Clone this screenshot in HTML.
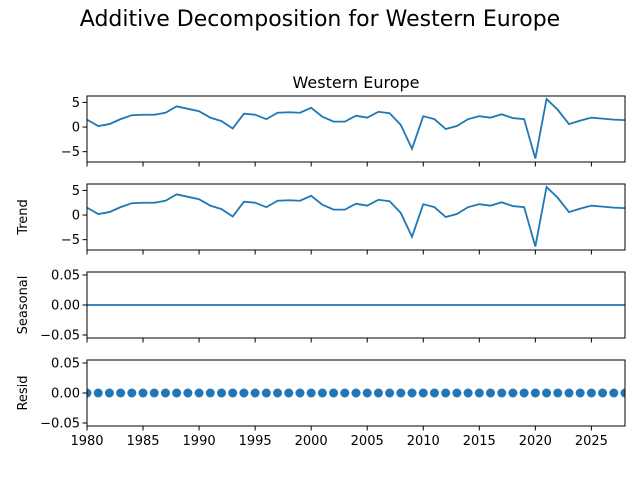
<!DOCTYPE html>
<html><head><meta charset="utf-8"><style>
body{margin:0;background:#fff;}
svg{font-family:"DejaVu Sans","Liberation Sans",sans-serif;}
</style></head><body>
<svg id="chart" width="640" height="480">
<text x="320" y="26" text-anchor="middle" font-size="22">Additive Decomposition for Western Europe</text>
<text x="356" y="88" text-anchor="middle" font-size="16">Western Europe</text>
</svg>
<script>
const years = [];
for (let y = 1980; y <= 2028; y++) years.push(y);
const observed = [1.5,0.2,0.6,1.6,2.4,2.5,2.5,2.9,4.2,3.7,3.2,1.9,1.2,-0.3,2.7,2.5,1.6,2.9,3.0,2.9,3.9,2.1,1.1,1.1,2.3,1.9,3.1,2.8,0.4,-4.4,2.2,1.6,-0.4,0.2,1.6,2.2,1.9,2.6,1.8,1.6,-6.4,5.7,3.5,0.6,1.3,1.9,1.7,1.5,1.4];
const trend = observed.slice();
const seasonal = years.map(()=>0);
const resid = years.map(()=>0);
const xTicks = [1980,1985,1990,1995,2000,2005,2010,2015,2020,2025];
const bigTicks = [5,0,-5];
const smallTicks = [0.05,0.00,-0.05];
const smallTickLabels = ["0.05","0.00","−0.05"];

const svg = document.getElementById('chart');
const NS = 'http://www.w3.org/2000/svg';
const L = 87, R = 625;
const x = v => L + (v - 1980) / (2028 - 1980) * (R - L);
function mk(tag, attrs, parent) {
  const e = document.createElementNS(NS, tag);
  for (const k in attrs) e.setAttribute(k, attrs[k]);
  (parent || svg).appendChild(e);
  return e;
}
const panels = [
  {name:'observed', top:96, data:observed, lo:-7.1, hi:6.3, ticks:bigTicks, labels:bigTicks.map(t=>t<0?'−'+(-t):''+t), ylabel:null, xlabels:false, dots:false},
  {name:'trend', top:184, data:trend, lo:-7.1, hi:6.3, ticks:bigTicks, labels:bigTicks.map(t=>t<0?'−'+(-t):''+t), ylabel:'Trend', xlabels:false, dots:false},
  {name:'seasonal', top:272, data:seasonal, lo:-0.055, hi:0.055, ticks:smallTicks, labels:smallTickLabels, ylabel:'Seasonal', xlabels:false, dots:false},
  {name:'resid', top:360, data:resid, lo:-0.055, hi:0.055, ticks:smallTicks, labels:smallTickLabels, ylabel:'Resid', xlabels:true, dots:true}
];
panels.forEach(p => {
  const H = 66, T = p.top, B = T + H;
  const y = v => B - (v - p.lo) / (p.hi - p.lo) * H;
  const g = mk('g', {});
  
  
  const clipId = 'clip-' + p.name;
  const cp = mk('clipPath', {id: clipId}, g);
  mk('rect', {x:L, y:T, width:R-L, height:H}, cp);
  if (p.dots) {
    years.forEach((yr, i) => {
      const c = mk('circle', {cx:x(yr), cy:y(p.data[i]), r:4.5, fill:'#1f77b4', 'clip-path':'url(#'+clipId+')'}, g);
      
      
    });
  } else {
    const d = years.map((yr,i)=>(i?'L':'M')+x(yr).toFixed(2)+','+y(p.data[i]).toFixed(2)).join('');
    const path = mk('path', {d:d, fill:'none', stroke:'#1f77b4', 'stroke-width':1.8, 'clip-path':'url(#'+clipId+')'}, g);
    
    
  }
  const frame = mk('rect', {x:L, y:T, width:R-L, height:H, fill:'none', stroke:'#000', 'stroke-width':1}, g);
  
  
  p.ticks.forEach((t, i) => {
    mk('line', {x1:L-4.5, x2:L, y1:y(t), y2:y(t), stroke:'#000', 'stroke-width':1}, g);
    const tx = mk('text', {x:L-7, y:y(t)+4.5, 'text-anchor':'end', 'font-size':13}, g);
    tx.textContent = p.labels[i];
    
    
  });
  xTicks.forEach(t => {
    mk('line', {x1:x(t), x2:x(t), y1:B, y2:B+4.5, stroke:'#000', 'stroke-width':1}, g);
    if (p.xlabels) {
      const tx = mk('text', {x:x(t), y:B+19, 'text-anchor':'middle', 'font-size':13}, g);
      tx.textContent = t;
      
      
    }
  });
  if (p.ylabel) {
    const cy = T + H/2;
    const tx = mk('text', {x:27, y:cy, 'text-anchor':'middle', 'font-size':13, transform:'rotate(-90 27 '+cy+')'}, g);
    tx.textContent = p.ylabel;
    
    
  }
});
</script>
</body></html>
